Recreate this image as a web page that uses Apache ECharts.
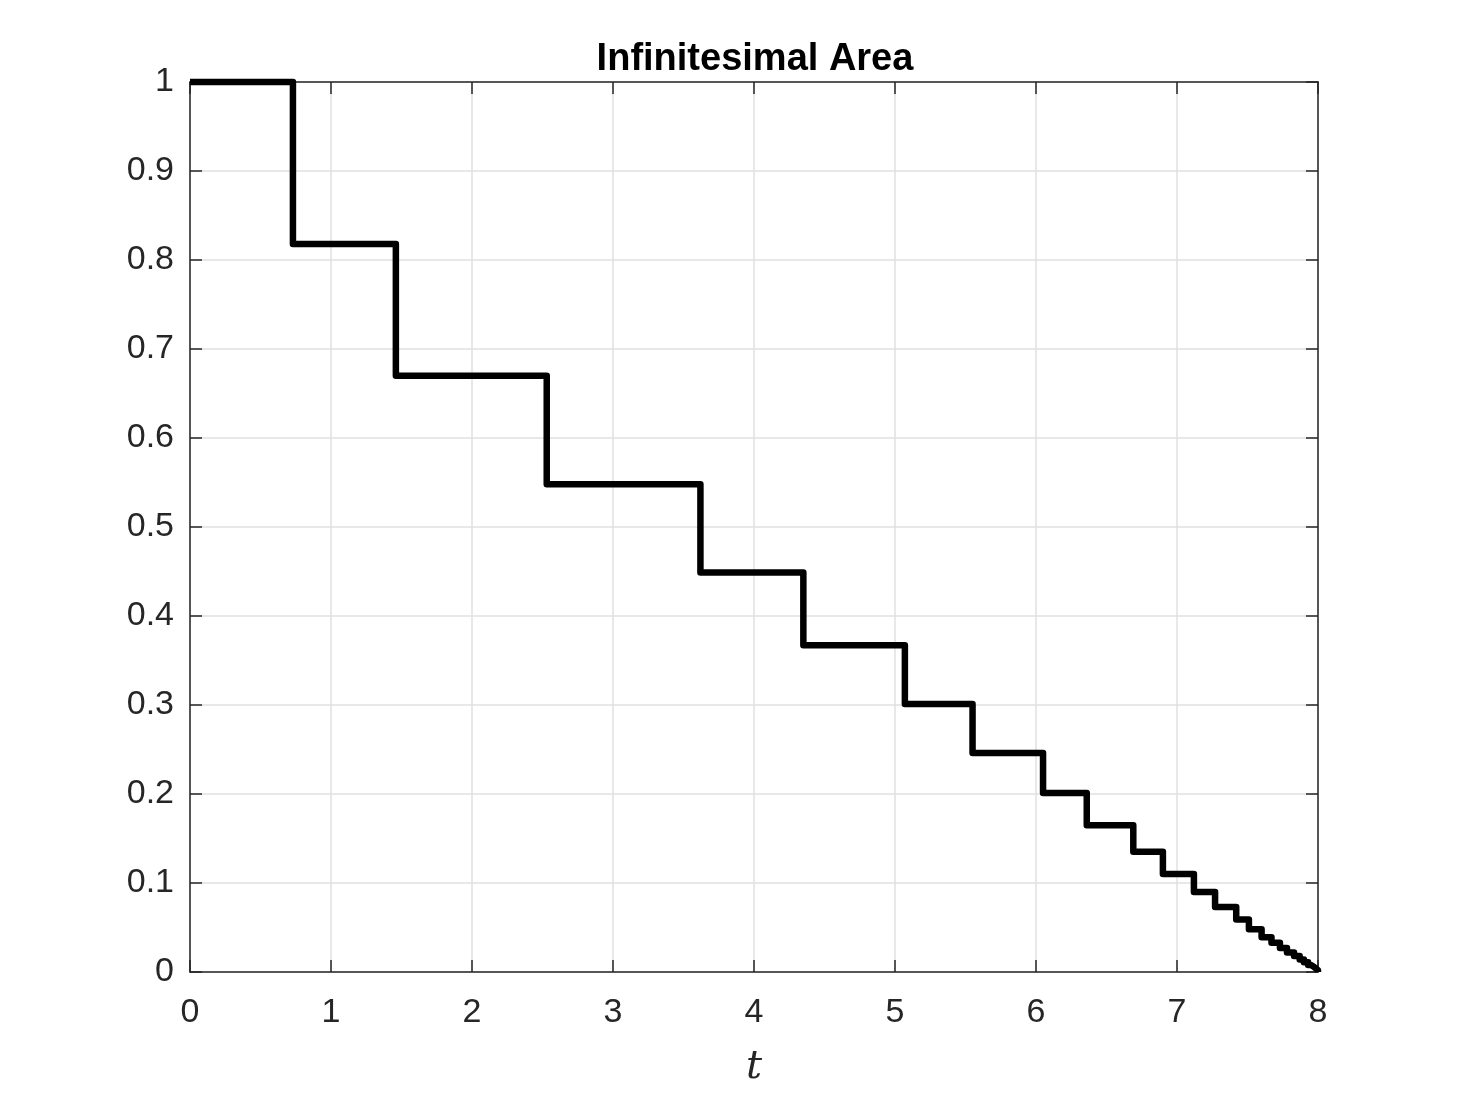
<!DOCTYPE html>
<html>
<head>
<meta charset="utf-8">
<script src="https://cdn.jsdelivr.net/npm/echarts@6/dist/echarts.min.js"></script>
<style>html,body{margin:0;padding:0;background:#fff;}#c{width:1458px;height:1094px;}</style>
</head>
<body>
<div id="c"></div>
<script>
// Step drop times and the value held from each time until the next one
const stepTimes = [0, 0.73, 1.46, 2.53, 3.62, 4.35, 5.07, 5.55, 6.05, 6.36, 6.69, 6.90, 7.12, 7.27, 7.42, 7.51, 7.60, 7.67, 7.73, 7.78, 7.83, 7.87, 7.90, 7.93, 7.95, 7.97, 7.985, 8.0];
const stepValues = [1, 0.818, 0.670, 0.548, 0.449, 0.367, 0.301, 0.246, 0.201, 0.165, 0.135, 0.110, 0.090, 0.073, 0.059, 0.048, 0.039, 0.033, 0.027, 0.022, 0.018, 0.014, 0.011, 0.008, 0.006, 0.004, 0.002, 0];
const xTicks = [0, 1, 2, 3, 4, 5, 6, 7, 8];
const yTicks = [0, 0.1, 0.2, 0.3, 0.4, 0.5, 0.6, 0.7, 0.8, 0.9, 1];
const titleText = 'Infinitesimal Area';
const xName = 't';

const chart = echarts.init(document.getElementById('c'), null, {renderer: 'canvas'});
const axisColor = '#262626';
const gridColor = '#e0e0e0';
const font = 'Liberation Sans, Arial, Helvetica, sans-serif';
const data = stepTimes.map((t, i) => [t, stepValues[i]]);

const baseX = {
  type: 'value', min: xTicks[0], max: xTicks[xTicks.length - 1], interval: 1,
  axisLine: {show: true, onZero: false, lineStyle: {color: axisColor, width: 1.5}},
  axisTick: {show: true, inside: true, length: 12, lineStyle: {color: axisColor, width: 1.5}},
  splitLine: {show: false}
};
const baseY = {
  type: 'value', min: yTicks[0], max: yTicks[yTicks.length - 1], interval: 0.1,
  axisLine: {show: true, onZero: false, lineStyle: {color: axisColor, width: 1.5}},
  axisTick: {show: true, inside: true, length: 12, lineStyle: {color: axisColor, width: 1.5}},
  splitLine: {show: false}
};

chart.setOption({
  animation: false,
  backgroundColor: '#ffffff',
  title: {
    text: titleText, left: 755, top: 36, textAlign: 'center',
    textStyle: {fontFamily: font, fontWeight: 'bold', fontSize: 38, color: '#000'}
  },
  grid: {left: 190, right: 140, top: 82, bottom: 122, containLabel: false},
  xAxis: [
    Object.assign({}, baseX, {
      position: 'bottom',
      name: xName, nameLocation: 'middle', nameGap: 76,
      nameTextStyle: {fontFamily: 'DejaVu Serif, Liberation Serif, serif', fontStyle: 'italic', fontSize: 40, color: axisColor},
      axisLabel: {show: true, margin: 24, fontFamily: font, fontSize: 34, color: axisColor},
      splitLine: {show: true, lineStyle: {color: gridColor, width: 1.5}}
    }),
    Object.assign({}, baseX, {position: 'top', axisLabel: {show: false}})
  ],
  yAxis: [
    Object.assign({}, baseY, {
      position: 'left',
      axisLabel: {show: true, margin: 16, fontFamily: font, fontSize: 34, color: axisColor, padding: [5, 0, 0, 0]},
      splitLine: {show: true, lineStyle: {color: gridColor, width: 1.5}}
    }),
    Object.assign({}, baseY, {position: 'right', axisLabel: {show: false}})
  ],
  series: [{
    type: 'line', step: 'end', data: data, showSymbol: false, symbol: 'none',
    xAxisIndex: 0, yAxisIndex: 0,
    lineStyle: {color: '#000', width: 6.5, join: 'round', cap: 'butt'},
    clip: false
  }]
});
chart.setOption({title: {left: 750}});
</script>
</body>
</html>
